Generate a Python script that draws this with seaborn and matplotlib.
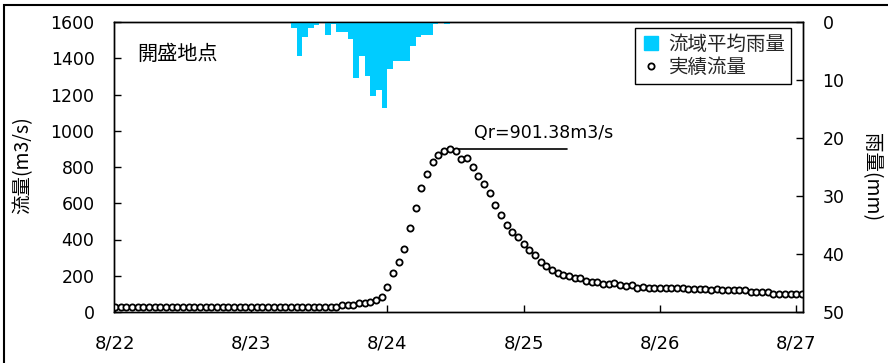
import matplotlib
matplotlib.use("Agg")
import matplotlib.pyplot as plt
import seaborn as sns
import pandas as pd
from matplotlib.lines import Line2D
from matplotlib.patches import Rectangle

# ---- data ----
date_labels = ["8/22", "8/23", "8/24", "8/25", "8/26", "8/27"]
date_hours = [0, 24, 48, 72, 96, 120]

flow_hours = list(range(0, 122))
flow_values = [
    28, 28, 28, 28, 28, 28, 28, 27, 27, 27, 27, 27, 27, 27, 27, 27, 27, 27, 27, 27,
    27, 27, 27, 27, 27, 27, 27, 27, 27, 27, 27, 27, 27, 27, 27, 27, 28, 28,
    28, 30, 39, 39, 40, 48, 48, 57, 66, 85, 136, 213, 274, 346, 463, 572, 682, 761,
    829, 866, 890, 901.38, 890, 842, 851, 802, 752, 704, 655, 590, 533, 480, 443,
    414, 374, 344, 314, 274, 254, 234, 215, 206, 199, 187, 186, 173, 167, 164, 154,
    154, 158, 149, 145, 149, 134, 136,
    135, 133, 132, 133, 131, 130, 131, 128, 128, 129, 126, 124, 125, 124, 123, 122,
    120, 121, 112, 111, 112, 108, 100, 99, 98, 98, 98, 97,
]

rain_hours = [31, 32, 33, 34, 35, 36, 37, 38, 39, 40, 41, 42, 43, 44, 45, 46, 47,
              48, 49, 50, 51, 52, 53, 54, 55, 56, 57, 58]
rain_values = [1.1, 5.8, 2.5, 1.1, 0.6, 0.0, 2.2, 0.3, 1.8, 1.8, 3.0, 9.6, 5.8, 9.3,
               12.7, 11.8, 14.9, 8.1, 6.8, 6.8, 6.8, 4.1, 2.5, 2.2, 2.2, 0.3, 0.0, 0.3]

peak_value = 901.38
peak_hour = 59
peak_line_end = 79.6
station = "開盛地点"
flow_label = "実績流量"
rain_label = "流域平均雨量"
ylabel_left = "流量(m3/s)"
ylabel_right = "雨量(mm)"

df_flow = pd.DataFrame({"hour": flow_hours, "flow": flow_values})

# ---- style ----
sns.set_theme(style="white")
plt.rcParams["font.family"] = ["DejaVu Sans", "Noto Sans CJK JP"]
cjk = ["Noto Sans CJK JP", "DejaVu Sans"]

fig = plt.figure(figsize=(8.88, 3.63), dpi=100)
ax = fig.add_axes([114 / 888, 1 - 312 / 363, (803 - 114) / 888, (312 - 22) / 363])

sns.scatterplot(data=df_flow, x="hour", y="flow", ax=ax, marker="o",
                s=20, facecolor="white", edgecolor="black", linewidth=1.3,
                zorder=3, legend=False)

ax.set_xlim(-0.15, 121.2)
ax.set_ylim(0, 1600)
ax.set_yticks(range(0, 1601, 200))
ax.set_xticks(date_hours)
ax.set_xticklabels(date_labels)
ax.set_xlabel("")
ax.set_ylabel("")
ax.tick_params(axis="y", direction="in", length=5, width=1, labelsize=12.5,
               pad=14, colors="black", left=True)
ax.tick_params(axis="x", direction="in", length=5, width=1, labelsize=13,
               pad=16, colors="black", bottom=True)
for sp in ax.spines.values():
    sp.set_color("black")
    sp.set_linewidth(1.0)

# peak annotation
ax.plot([peak_hour, peak_line_end], [peak_value, peak_value], color="black", lw=1.2, zorder=2)
ax.text(63.3, 990, f"Qr={peak_value}m3/s", fontsize=12.5, va="center", ha="left",
        color="black")
ax.text(4.0, 1420, station, fontsize=14.5, family=cjk, va="center", ha="left",
        color="black")

# rainfall on right axis
ax2 = ax.twinx()
ax2.bar(rain_hours, rain_values, width=1.0, align="edge", color="#00CCFF",
        edgecolor="none", linewidth=0)
ax2.set_ylim(50, 0)
ax2.set_yticks(range(0, 51, 10))
ax2.tick_params(axis="y", direction="in", length=5, width=1, labelsize=12.5,
                pad=14, colors="black", right=True)
ax2.grid(False)
ax.grid(False)
for sp in ax2.spines.values():
    sp.set_color("black")
    sp.set_linewidth(1.0)

handles = [
    Line2D([], [], marker="s", linestyle="none", markersize=10,
           markerfacecolor="#00CCFF", markeredgecolor="#00CCFF"),
    Line2D([], [], marker="o", linestyle="none", markersize=4.5,
           markerfacecolor="white", markeredgecolor="black", markeredgewidth=1.3),
]
leg = ax2.legend(handles, [rain_label, flow_label], loc="upper right",
                 bbox_to_anchor=(0.983, 0.979), borderaxespad=0, frameon=True,
                 fancybox=False, framealpha=1, edgecolor="black",
                 prop={"family": cjk, "size": 14}, handlelength=1.0,
                 handletextpad=0.4, borderpad=0.3, labelspacing=0.1)
leg.get_frame().set_linewidth(1.0)

fig.text(23 / 888, 1 - 165 / 363, ylabel_left, rotation=90, fontsize=14,
         family=cjk, va="center", ha="center", color="black")
fig.text(871 / 888, 1 - 177 / 363, ylabel_right, rotation=270, fontsize=14,
         family=cjk, va="center", ha="center", color="black")

# outer frame
fig.patches.append(Rectangle((4 / 888, -0.05), 1.2, 1 - 4.5 / 363 + 0.05,
                             transform=fig.transFigure, fill=False,
                             edgecolor="black", linewidth=1.5))

fig.savefig("out.png", dpi=100)
